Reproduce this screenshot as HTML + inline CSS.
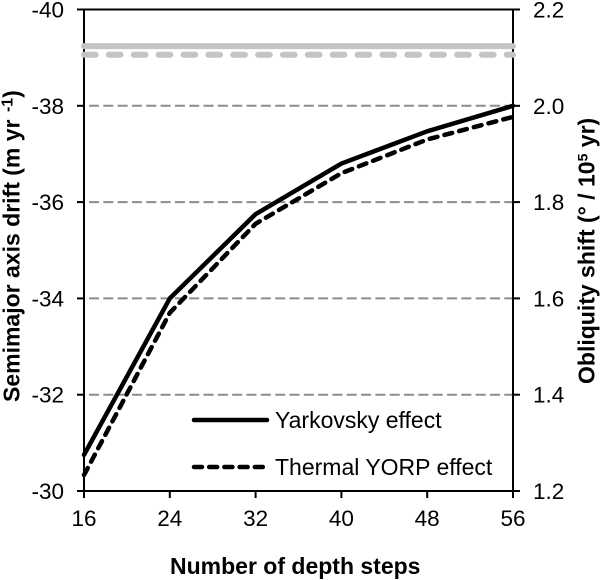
<!DOCTYPE html>
<html>
<head>
<meta charset="utf-8">
<style>
html,body{margin:0;padding:0;background:#fff}
svg{display:block}
text{font-family:"Liberation Sans",Arial,sans-serif;fill:#000}
.tick{font-size:22.5px}
.title{font-size:23px;font-weight:bold}
.leg{font-size:23px}
</style>
</head>
<body>
<svg id="chart" width="600" height="580" viewBox="0 0 600 580" xmlns="http://www.w3.org/2000/svg"></svg>
<script>
const categories = [16, 24, 32, 40, 48, 56];
const yarkovskyValues = [-30.75, -34.0, -35.75, -36.8, -37.47, -38.0];
const yorpValues = [1.233, 1.57, 1.755, 1.86, 1.93, 1.977];
const yarkovskyReference = [-39.24, -39.24, -39.24, -39.24, -39.24, -39.24];
const yorpReference = [2.106, 2.106, 2.106, 2.106, 2.106, 2.106];
const leftTicks = [-40, -38, -36, -34, -32, -30];
const rightTicks = [2.2, 2.0, 1.8, 1.6, 1.4, 1.2];

const svg = document.getElementById('chart');
const NS = 'http://www.w3.org/2000/svg';
const plotLeft = 84, plotRight = 513, plotTop = 9.5, plotBottom = 491;

function xAt(i) { return plotLeft + i * (plotRight - plotLeft) / (categories.length - 1); }
function yLeft(v) { return plotTop + (v - leftTicks[0]) * (plotBottom - plotTop) / (leftTicks[leftTicks.length - 1] - leftTicks[0]); }
function yRight(v) { return plotTop + (v - rightTicks[0]) * (plotBottom - plotTop) / (rightTicks[rightTicks.length - 1] - rightTicks[0]); }

function make(tag, attrs, text) {
  const el = document.createElementNS(NS, tag);
  for (const k in attrs) el.setAttribute(k, attrs[k]);
  if (text !== undefined) el.textContent = text;
  svg.appendChild(el);
  return el;
}
function pointsFor(values, yFn) {
  return values.map((v, i) => xAt(i) + ',' + yFn(v)).join(' ');
}

/* gridlines */
leftTicks.slice(1, -1).forEach(function (t) {
  const g = make('line', {x1: plotLeft, x2: plotRight, y1: yLeft(t), y2: yLeft(t), stroke: '#8c8c8c', 'stroke-width': 2, 'stroke-dasharray': '10 4.32', 'stroke-dashoffset': 9.32});
  
  
});

/* axes frame */
const frame = make('rect', {x: plotLeft, y: plotTop, width: plotRight - plotLeft, height: plotBottom - plotTop, fill: 'none', stroke: '#000', 'stroke-width': 2});



/* reference lines */
const refSolid = make('polyline', {points: pointsFor(yarkovskyReference, yLeft), fill: 'none', stroke: '#c4c4c4', 'stroke-width': 6, 'stroke-linecap': 'round'});


const refDash = make('polyline', {points: pointsFor(yorpReference, yRight), fill: 'none', stroke: '#c4c4c4', 'stroke-width': 6, 'stroke-linecap': 'round', 'stroke-dasharray': '11.7 13.17'});



/* series */
const lineA = make('polyline', {points: pointsFor(yarkovskyValues, yLeft), fill: 'none', stroke: '#000', 'stroke-width': 4.5, 'stroke-linejoin': 'round', 'stroke-linecap': 'round'});


const lineB = make('polyline', {points: pointsFor(yorpValues, yRight), fill: 'none', stroke: '#000', 'stroke-width': 4.5, 'stroke-linecap': 'round', 'stroke-dasharray': '8 7.2'});



/* left axis */
leftTicks.forEach(function (t) {
  const m = make('line', {x1: plotLeft - 7, x2: plotLeft, y1: yLeft(t), y2: yLeft(t), stroke: '#000', 'stroke-width': 2});
  
  
  const l = make('text', {class: 'tick', x: 64, y: yLeft(t) + 8, 'text-anchor': 'end'}, String(t));
  
  
});

/* right axis */
rightTicks.forEach(function (t) {
  const m = make('line', {x1: plotRight, x2: plotRight + 7, y1: yRight(t), y2: yRight(t), stroke: '#000', 'stroke-width': 2});
  
  
  const l = make('text', {class: 'tick', x: 533, y: yRight(t) + 8}, t.toFixed(1));
  
  
});

/* x axis */
categories.forEach(function (c, i) {
  const m = make('line', {x1: xAt(i), x2: xAt(i), y1: plotBottom, y2: plotBottom + 7, stroke: '#000', 'stroke-width': 2});
  
  
  const l = make('text', {class: 'tick', x: xAt(i), y: 526, 'text-anchor': 'middle'}, String(c));
  
  
});
</script>
<script>
(function () {
  const svg = document.getElementById('chart');
  svg.insertAdjacentHTML('beforeend',
    '<text class="title" x="170" y="574">Number of depth steps</text>' +
    '<text class="title" transform="translate(19.5,402) rotate(-90)">Semimajor axis drift (m yr<tspan dx="3" dy="-7" font-size="16"> -1</tspan><tspan dy="7">)</tspan></text>' +
    '<text class="title" transform="translate(594.5,384) rotate(-90)">Obliquity shift (° / 10<tspan dy="-7" font-size="14">5</tspan><tspan dy="7"> yr)</tspan></text>' +
    '<line x1="194" x2="267" y1="420" y2="420" stroke="#000" stroke-width="4.5" stroke-linecap="round"/>' +
    '<text class="leg" x="275" y="428">Yarkovsky effect</text>' +
    '<line x1="194" x2="267" y1="467" y2="467" stroke="#000" stroke-width="4.5" stroke-linecap="round" stroke-dasharray="8 7.2"/>' +
    '<text class="leg" x="275" y="475">Thermal YORP effect</text>');
})();
</script>
</body>
</html>
